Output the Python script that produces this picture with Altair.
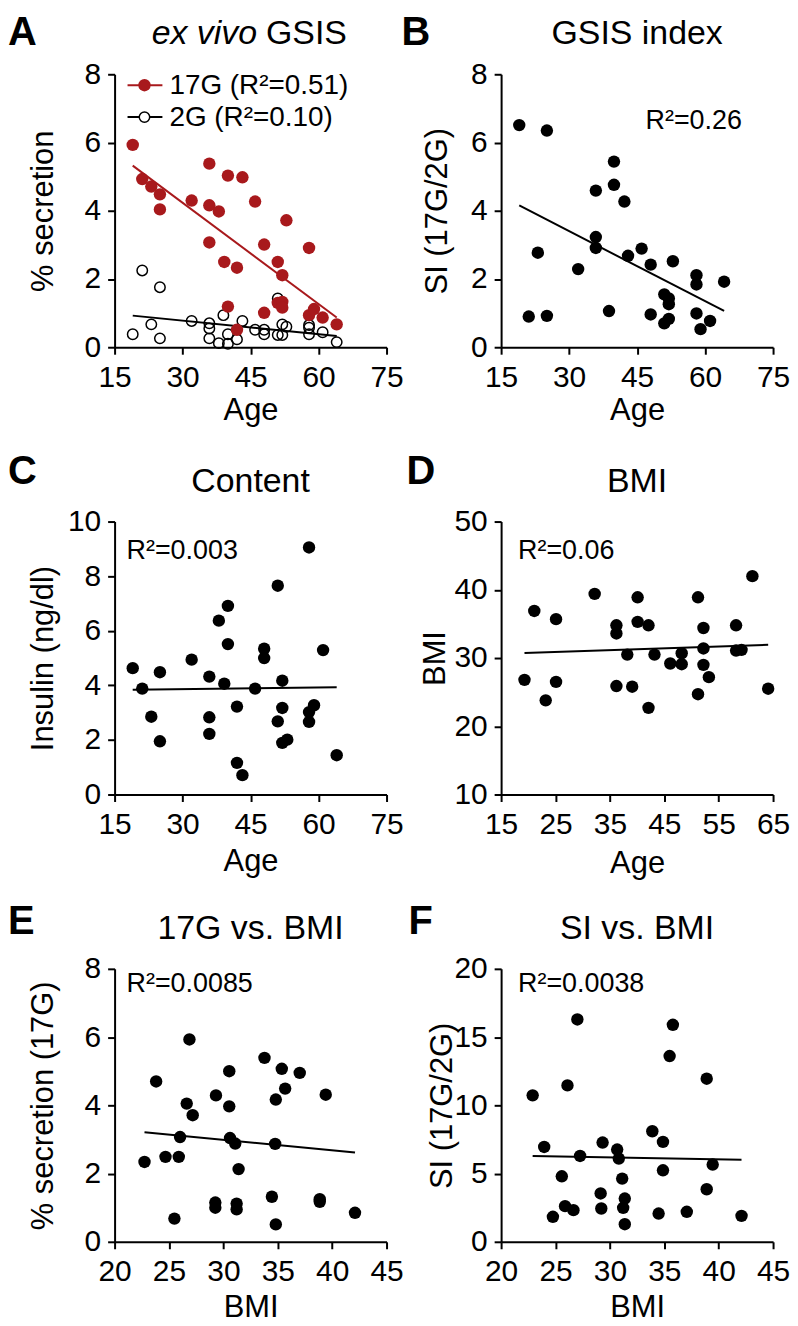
import altair as alt
import pandas as pd

FONT = "Liberation Sans"
RED = "#A8191C"
W = 273
H = 274

# ---------------- Panel A: ex vivo GSIS ----------------
a17_age = [19.0, 21.1, 23.1, 25.0, 25.0, 32.0, 35.9, 35.9, 38.0, 35.9, 39.2, 42.0, 40.0, 43.2, 46.0,
           52.9, 48.0, 51.0, 52.0, 57.9, 40.0, 42.0, 48.0, 51.0, 52.0, 52.0, 57.9, 59.0, 60.9, 64.0]
a17_sec = [5.93, 4.93, 4.71, 4.48, 4.04, 4.30, 5.38, 4.16, 3.98, 3.07, 2.50, 2.33, 5.03, 4.98, 4.27,
           3.72, 3.01, 2.50, 2.11, 2.91, 1.19, 0.51, 1.01, 1.30, 1.33, 1.16, 0.94, 1.12, 0.87, 0.67]
a2_age = [19.0, 21.1, 23.1, 25.0, 25.0, 32.0, 35.9, 35.9, 35.9, 38.0, 39.0, 40.0, 40.0, 42.0,
          43.2, 46.0, 48.0, 48.0, 51.0, 51.0, 52.0, 52.0, 52.9, 57.9, 57.9, 57.9, 60.9, 64.0]
a2_sec = [0.38, 2.25, 0.67, 0.26, 1.76, 0.77, 0.70, 0.55, 0.26, 0.12, 0.94, 0.38, 0.10, 0.23,
          0.77, 0.51, 0.51, 0.38, 1.43, 0.36, 0.67, 0.36, 0.60, 0.65, 0.38, 0.57, 0.44, 0.15]

# ---------------- Panel B: GSIS index ----------------
b_age = [19.0, 25.1, 21.1, 25.1, 23.1, 32.0, 35.9, 35.9, 35.9, 38.8, 39.9, 39.9, 42.2, 43.0, 46.0,
         48.0, 48.0, 51.0, 52.0, 52.0, 51.0, 52.0, 52.9, 58.1, 58.1, 58.1, 59.0, 61.1, 64.2]
b_si = [6.51, 6.35, 0.90, 0.92, 2.77, 2.29, 4.59, 3.23, 2.91, 1.06, 5.44, 4.76, 4.27, 2.68, 2.89,
        2.42, 0.96, 1.55, 1.43, 1.26, 0.70, 0.83, 2.52, 2.11, 1.84, 0.99, 0.53, 0.77, 1.92]

# ---------------- Panel C: Content ----------------
c_age = [19.0, 21.1, 23.1, 25.0, 25.0, 32.0, 35.9, 35.9, 35.9, 38.0, 39.2, 40.0, 40.0, 42.0, 42.0, 43.2,
         46.0, 48.0, 48.0, 51.0, 51.0, 52.0, 52.0, 52.0, 53.1, 57.9, 57.9, 57.9, 59.0, 61.0, 64.0]
c_ins = [4.63, 3.88, 2.85, 4.48, 1.95, 4.94, 4.32, 2.83, 2.22, 6.37, 4.06, 6.91, 5.51, 3.22, 1.16, 0.71,
         3.88, 5.34, 5.00, 7.65, 2.68, 4.17, 3.17, 1.89, 2.01, 9.05, 3.02, 2.66, 3.27, 5.29, 1.44]

# ---------------- Panel D: BMI ----------------
d_age = [19.3, 21.1, 23.2, 25.1, 25.1, 32.2, 36.2, 36.2, 36.2, 38.2, 39.1, 40.1, 40.1, 42.1, 42.1,
         43.2, 46.1, 48.2, 48.2, 51.2, 51.2, 52.2, 52.2, 52.2, 53.2, 58.2, 58.2, 59.2, 61.2, 64.1]
d_bmi = [26.8, 36.9, 23.8, 35.7, 26.5, 39.4, 34.8, 33.6, 25.9, 30.5, 25.8, 38.9, 35.3, 34.8, 22.7,
         30.5, 29.2, 30.7, 29.1, 38.9, 24.7, 34.4, 31.4, 29.0, 27.2, 34.8, 31.1, 31.2, 42.0, 25.5]

# ---------------- Panel E: 17G vs. BMI ----------------
e_bmi = [22.75, 23.82, 24.68, 25.50, 25.90, 26.02, 26.63, 26.88, 27.18, 29.26, 29.26, 29.32, 30.54, 30.54,
         30.61, 31.09, 31.22, 31.22, 31.40, 33.78, 34.46, 34.76, 34.82, 34.82, 35.37, 35.68, 37.02, 38.86,
         38.86, 39.41, 42.10]
e_sec = [2.34, 4.70, 2.49, 0.68, 2.49, 3.07, 4.05, 5.93, 3.71, 1.15, 1.00, 4.29, 5.00, 3.97,
         3.04, 2.88, 1.12, 0.95, 2.13, 5.39, 1.32, 2.87, 0.51, 4.17, 5.07, 4.49, 4.95, 1.25,
         1.17, 4.31, 0.85]

# ---------------- Panel F: SI vs. BMI ----------------
f_bmi = [22.90, 23.96, 24.76, 25.58, 25.88, 26.10, 26.65, 27.01, 27.26, 29.15, 29.21, 29.33, 30.67, 30.82,
         31.13, 31.22, 31.37, 31.37, 33.90, 34.48, 34.88, 34.88, 35.49, 35.79, 37.07, 38.90, 38.90, 39.45,
         42.10]
f_si = [10.73, 6.95, 1.83, 4.80, 2.61, 11.46, 2.32, 16.29, 6.29, 3.54, 2.44, 7.27, 6.76, 6.10,
        4.63, 2.49, 3.17, 1.29, 8.10, 2.07, 7.32, 5.24, 13.61, 15.90, 2.20, 11.95, 3.85, 5.66,
        1.90]

ONE = pd.DataFrame({"k": [0]})


def df_of(xs, ys):
    return pd.DataFrame({"x": xs, "y": ys})


def txt(text, x, y, size, align="left", weight="normal", style="normal", color="black"):
    return alt.Chart(ONE).mark_text(
        text=text, font=FONT, fontSize=size, align=align, baseline="alphabetic",
        fontWeight=weight, fontStyle=style, color=color
    ).encode(x=alt.value(x), y=alt.value(y))


def encs(xdom, xticks, ydom, yticks, xtitle, ytitle, xty, ytx):
    xe = alt.X("x:Q", scale=alt.Scale(domain=xdom, nice=False, zero=False),
               axis=alt.Axis(values=xticks, title=xtitle, titleY=xty, titleX=W / 2))
    ye = alt.Y("y:Q", scale=alt.Scale(domain=ydom, nice=False, zero=False),
               axis=alt.Axis(values=yticks, title=ytitle, titleX=ytx, titleY=H / 2))
    return xe, ye


def scatter(df, xe, ye, color="black"):
    pts = alt.Chart(df).mark_circle(size=155, color=color, opacity=1).encode(x=xe, y=ye)
    reg = alt.Chart(df).transform_regression("x", "y").mark_line(
        color=color, strokeWidth=2).encode(x=xe, y=ye)
    return [reg, pts]


def title_layer(t):
    return txt(t, W / 2, -30, 34, align="center")


# ----- Panel A -----
xe, ye = encs([15, 75], [15, 30, 45, 60, 75], [0, 8], [0, 2, 4, 6, 8], "Age", "% secretion", 73, -62)
dfa2 = df_of(a2_age, a2_sec)
dfa17 = df_of(a17_age, a17_sec)
a2_pts = alt.Chart(dfa2).mark_point(filled=False, size=110, color="black", strokeWidth=1.5,
                                    opacity=1).encode(x=xe, y=ye)
a2_reg = alt.Chart(dfa2).transform_regression("x", "y").mark_line(
    color="black", strokeWidth=2).encode(x=xe, y=ye)
a17_reg, a17_pts = scatter(dfa17, xe, ye, RED)
leg_line1 = alt.Chart(ONE).mark_rule(color=RED, strokeWidth=2).encode(
    x=alt.value(13), x2=alt.value(48), y=alt.value(11))
leg_pt1 = alt.Chart(ONE).mark_circle(size=155, color=RED, opacity=1).encode(
    x=alt.value(30), y=alt.value(11))
leg_line2 = alt.Chart(ONE).mark_rule(color="black", strokeWidth=2).encode(
    x=alt.value(13), x2=alt.value(48), y=alt.value(43))
leg_pt2 = alt.Chart(ONE).mark_point(size=110, filled=True, fill="white", stroke="black",
                                    strokeWidth=1.5, opacity=1).encode(
    x=alt.value(30), y=alt.value(43))
panelA = alt.layer(
    a2_reg, a2_pts, a17_reg, a17_pts,
    leg_line1, leg_pt1, leg_line2, leg_pt2,
    txt("17G (R²=0.51)", 55, 20, 28),
    txt("2G (R²=0.10)", 55, 52, 28),
    txt("ex vivo", 143, -30, 34, align="right", style="italic"),
    txt("GSIS", 152, -30, 34, align="left"),
    txt("A", -107, -29, 40, weight="bold"),
).properties(width=W, height=H)

# ----- Panel B -----
xe, ye = encs([15, 75], [15, 30, 45, 60, 75], [0, 8], [0, 2, 4, 6, 8], "Age", "SI (17G/2G)", 73, -55)
panelB = alt.layer(
    *scatter(df_of(b_age, b_si), xe, ye),
    txt("R²=0.26", 145, 55, 27),
    title_layer("GSIS index"),
    txt("B", -100, -29, 40, weight="bold"),
).properties(width=W, height=H)

# ----- Panel C -----
xe, ye = encs([15, 75], [15, 30, 45, 60, 75], [0, 10], [0, 2, 4, 6, 8, 10], "Age", "Insulin (ng/dl)", 76, -62)
panelC = alt.layer(
    *scatter(df_of(c_age, c_ins), xe, ye),
    txt("R²=0.003", 12, 38, 27),
    title_layer("Content"),
    txt("C", -107, -38, 40, weight="bold"),
).properties(width=W, height=H)

# ----- Panel D -----
xe, ye = encs([15, 65], [15, 25, 35, 45, 55, 65], [10, 50], [10, 20, 30, 40, 50], "Age", "BMI", 78, -57)
panelD = alt.layer(
    *scatter(df_of(d_age, d_bmi), xe, ye),
    txt("R²=0.06", 17, 38, 27),
    title_layer("BMI"),
    txt("D", -95, -38, 40, weight="bold"),
).properties(width=W, height=H)

# ----- Panel E -----
xe, ye = encs([20, 45], [20, 25, 30, 35, 40, 45], [0, 8], [0, 2, 4, 6, 8], "BMI", "% secretion (17G)", 75, -62)
panelE = alt.layer(
    *scatter(df_of(e_bmi, e_sec), xe, ye),
    txt("R²=0.0085", 12, 23, 27),
    title_layer("17G vs. BMI"),
    txt("E", -107, -35, 40, weight="bold"),
).properties(width=W, height=H)

# ----- Panel F -----
xe, ye = encs([20, 45], [20, 25, 30, 35, 40, 45], [0, 20], [0, 5, 10, 15, 20], "BMI", "SI (17G/2G)", 75, -50)
panelF = alt.layer(
    *scatter(df_of(f_bmi, f_si), xe, ye),
    txt("R²=0.0038", 17, 23, 27),
    title_layer("SI vs. BMI"),
    txt("F", -93, -35, 40, weight="bold"),
).properties(width=W, height=H)

chart = alt.concat(
    panelA, panelB, panelC, panelD, panelE, panelF,
    columns=2, spacing={"row": 175, "column": 115}, bounds="flush"
).properties(
    padding={"left": 0, "top": 3, "right": 0, "bottom": 0}
).configure_view(stroke=None).configure_axis(
    domainColor="black", domainWidth=2, tickColor="black", tickWidth=2, tickSize=7,
    grid=False, labelFont=FONT, labelFontSize=30, labelColor="black",
    titleFont=FONT, titleFontSize=31, titleFontWeight="normal", titleColor="black",
    labelFlush=False, labelOverlap=False, titleBaseline="alphabetic", titleAlign="center"
).configure_axisX(
    labelPadding=32, labelBaseline="alphabetic"
).configure_axisY(
    labelPadding=7, titleAngle=270
)

chart.save("out.html", embed_options={"renderer": "svg", "actions": False})
